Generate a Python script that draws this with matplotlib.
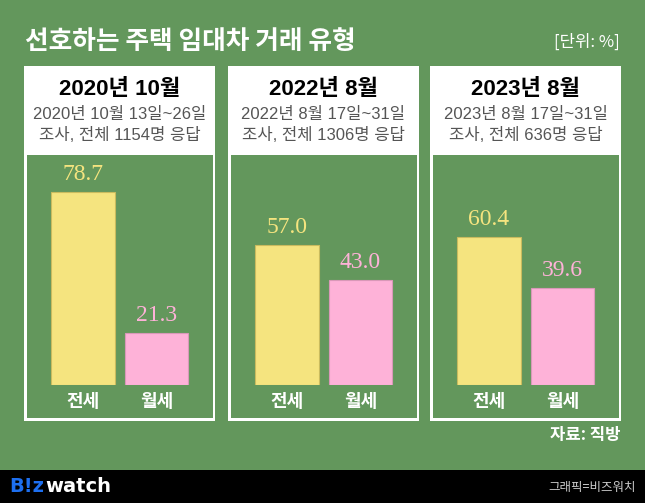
import matplotlib
matplotlib.use('agg')
import matplotlib.pyplot as plt
from matplotlib.patches import Rectangle

plt.rcParams['font.family'] = ['Noto Sans CJK KR', 'DejaVu Sans']

title = "선호하는 주택 임대차 거래 유형"
unit = "[단위: %]"
source = "자료: 직방"
credit = "그래픽=비즈워치"

categories = ["전세", "월세"]
panel_titles = ["2020년 10월", "2022년 8월", "2023년 8월"]
panel_notes = ["2020년 10월 13일~26일\n조사, 전체 1154명 응답",
               "2022년 8월 17일~31일\n조사, 전체 1306명 응답",
               "2023년 8월 17일~31일\n조사, 전체 636명 응답"]
jeonse = [78.7, 57.0, 60.4]
wolse = [21.3, 43.0, 39.6]

GREEN = '#63975c'
YELLOW = '#f5e47f'
PINK = '#feb2d8'
W, H = 645, 503
SANS = ['Liberation Sans', 'Noto Sans CJK KR']

fig = plt.figure(figsize=(W / 100, H / 100), dpi=100)
fig.patch.set_facecolor(GREEN)

# background canvas in pixel coords
bg = fig.add_axes([0, 0, 1, 1])
bg.set_xlim(0, W)
bg.set_ylim(H, 0)
bg.axis('off')

bg.text(25, 41, title, color='white', fontsize=18.5, fontweight='bold',
        va='center', ha='left')
bg.text(620, 42, unit, color='white', fontsize=12, va='center', ha='right')
bg.text(620, 435, source, color='white', fontsize=12, fontweight='bold',
        va='center', ha='right')

# footer
bg.add_patch(Rectangle((0, 470), W, H - 470, color='black', lw=0))
bg.text(9, 487, "B!z", color='#1d6ff0', fontsize=14, fontweight='bold',
        va='center', ha='left', family=['DejaVu Sans'])
bg.text(45, 487, "watch", color='white', fontsize=14, fontweight='bold',
        va='center', ha='left', family=['DejaVu Sans'])
bg.text(636, 487, credit, color='#cccccc', fontsize=9, va='center', ha='right')

panel_left = [24, 228, 430]
panel_w = 191
y_top, y_head, y_bot = 66, 155, 421
px_per_unit = 2.45
base_y = 385

for i in range(3):
    x0 = panel_left[i]
    cx = x0 + panel_w / 2
    bg.add_patch(Rectangle((x0, y_top), panel_w, y_bot - y_top, color='white', lw=0))
    bg.add_patch(Rectangle((x0 + 2.5, y_head), panel_w - 5, y_bot - 2.5 - y_head,
                           color=GREEN, lw=0))
    bg.text(cx, 89, panel_titles[i], color='black', fontsize=16, fontweight='bold',
            va='center', ha='center', family=SANS)
    bg.text(cx, 125, panel_notes[i], color='#555555', fontsize=12,
            va='center', ha='center', linespacing=1.4, family=SANS)

    # bar axes: value 0 at base_y, 100 at base_y - 245 px
    c1 = x0 + 59
    step = 73.5
    left = c1 - 0.5 * step
    ax = fig.add_axes([left / W, (H - base_y) / H, 2 * step / W, 100 * px_per_unit / H])
    ax.set_xlim(-0.5, 1.5)
    ax.set_ylim(0, 100)
    ax.axis('off')
    ax.patch.set_alpha(0)
    vals = [jeonse[i], wolse[i]]
    ax.bar([0, 1], vals, width=0.87, color=[YELLOW, PINK],
           edgecolor=['#c9bb5e', '#d998b8'], linewidth=0.8)
    for j, v in enumerate(vals):
        ax.annotate(f"{v:.1f}", (j, v), xytext=(0, 5), textcoords='offset points',
                    ha='center', va='bottom', fontsize=17,
                    color=YELLOW if j == 0 else PINK, family=['Liberation Serif'])
        ax.annotate(categories[j], (j, 0), xytext=(0, -5), textcoords='offset points',
                    ha='center', va='top', fontsize=13, fontweight='bold',
                    color='white', annotation_clip=False)

fig.savefig('out.png', dpi=100, facecolor=GREEN)
